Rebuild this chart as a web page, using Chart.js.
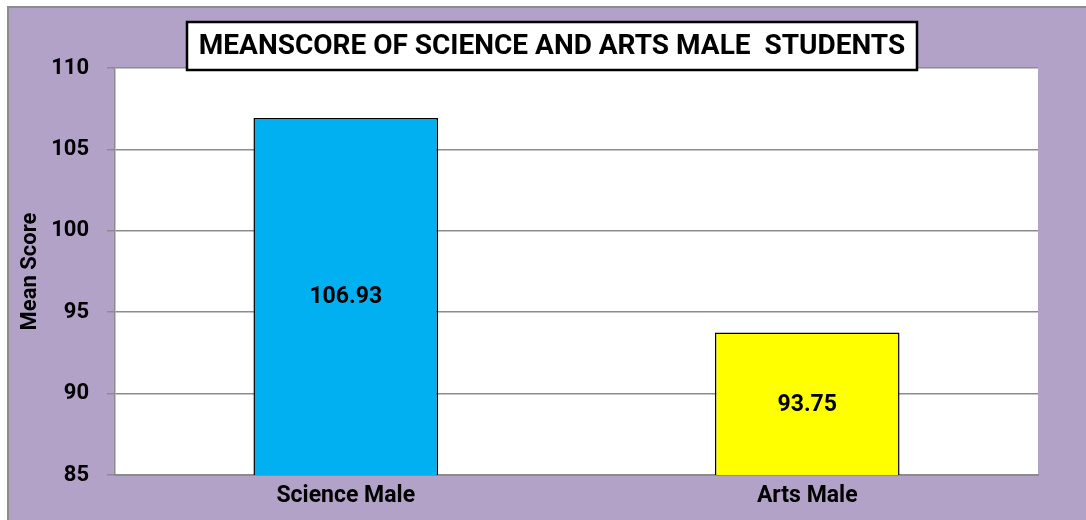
<!DOCTYPE html>
<html>
<head>
<meta charset="utf-8">
<script src="https://cdn.jsdelivr.net/npm/chart.js@4/dist/chart.umd.min.js"></script>
<style>
html,body{margin:0;padding:0;background:#fff;}
#wrap{width:1086px;height:520px;position:relative;}
</style>
</head>
<body>
<div id="wrap"><canvas id="c" width="1086" height="520"></canvas></div>
<script>
const categories = ["Science Male", "Arts Male"];
const meanScores = [106.93, 93.75];
const barColors = ["#00B0F0", "#FFFF00"];
const yTicks = [85, 90, 95, 100, 105, 110];
const chartTitle = "MEANSCORE OF SCIENCE AND ARTS MALE  STUDENTS";
const yAxisTitle = "Mean Score";

const FONT = "Roboto, 'Open Sans', sans-serif";

const decor = {
  id: 'decor',
  beforeDraw(chart) {
    const ctx = chart.ctx;
    ctx.save();
    ctx.fillStyle = '#ffffff';
    ctx.fillRect(0, 0, chart.width, chart.height);
    ctx.fillStyle = '#B3A2C7';
    ctx.fillRect(8, 7, chart.width - 8, chart.height - 7);
    ctx.strokeStyle = '#8c8c8c';
    ctx.lineWidth = 2;
    ctx.beginPath();
    ctx.moveTo(8, chart.height);
    ctx.lineTo(8, 7);
    ctx.lineTo(chart.width, 7);
    ctx.stroke();
    const a = chart.chartArea;
    ctx.fillStyle = '#ffffff';
    ctx.fillRect(a.left, a.top, a.right - a.left, a.bottom - a.top);
    ctx.restore();
  },
  afterDraw(chart) {
    const ctx = chart.ctx;
    ctx.save();
    // data labels
    const meta = chart.getDatasetMeta(0);
    const ys = chart.scales.y;
    ctx.fillStyle = '#000';
    ctx.font = "bold 23px " + FONT;
    ctx.textAlign = 'center';
    ctx.textBaseline = 'middle';
    meta.data.forEach((bar, i) => {
      const v = chart.data.datasets[0].data[i];
      const top = ys.getPixelForValue(v);
      const bottom = ys.getPixelForValue(ys.min);
      ctx.fillText(v.toFixed(2), bar.x, (top + bottom) / 2 + 1);
    });
    // title box
    const x0 = 187, y0 = 22, w = 730, h = 48;
    ctx.fillStyle = '#fff';
    ctx.fillRect(x0, y0, w, h);
    ctx.strokeStyle = '#000';
    ctx.lineWidth = 2.5;
    ctx.strokeRect(x0, y0, w, h);
    ctx.fillStyle = '#000';
    ctx.font = "bold 28px " + FONT;
    ctx.fillText(chartTitle, x0 + w / 2, y0 + h / 2 + 1);
    ctx.restore();
  }
};

new Chart(document.getElementById('c'), {
  type: 'bar',
  data: {
    labels: categories,
    datasets: [{
      data: meanScores,
      backgroundColor: barColors,
      borderColor: '#000',
      borderWidth: 1.5,
      borderSkipped: false,
      barPercentage: 0.4,
      categoryPercentage: 1.0
    }]
  },
  options: {
    responsive: false,
    animation: false,
    devicePixelRatio: 1,
    layout: { padding: { left: 0, right: 48, top: 68, bottom: 0 } },
    plugins: { legend: { display: false }, tooltip: { enabled: false }, title: { display: false } },
    scales: {
      x: {
        grid: { display: false, drawTicks: false },
        border: { display: true, color: '#8c8c8c', width: 2 },
        ticks: { color: '#000', font: { family: FONT, size: 23, weight: 'bold' }, padding: 7 },
        afterFit(s) { s.height = 45; }
      },
      y: {
        min: 85, max: 110,
        afterBuildTicks(s) { s.ticks = yTicks.map(v => ({ value: v })); },
        grid: { color: '#8c8c8c', lineWidth: 1.5, tickLength: 8, drawTicks: true },
        border: { display: true, color: '#8c8c8c', width: 1.5 },
        ticks: { color: '#000', font: { family: FONT, size: 22, weight: 'bold' }, padding: 18 },
        title: { display: true, text: yAxisTitle, color: '#000', font: { family: FONT, size: 22, weight: 'bold' }, padding: { top: 17, bottom: 0 } },
        afterFit(s) { s.width = 115; }
      }
    }
  },
  plugins: [decor]
});
</script>
</body>
</html>
